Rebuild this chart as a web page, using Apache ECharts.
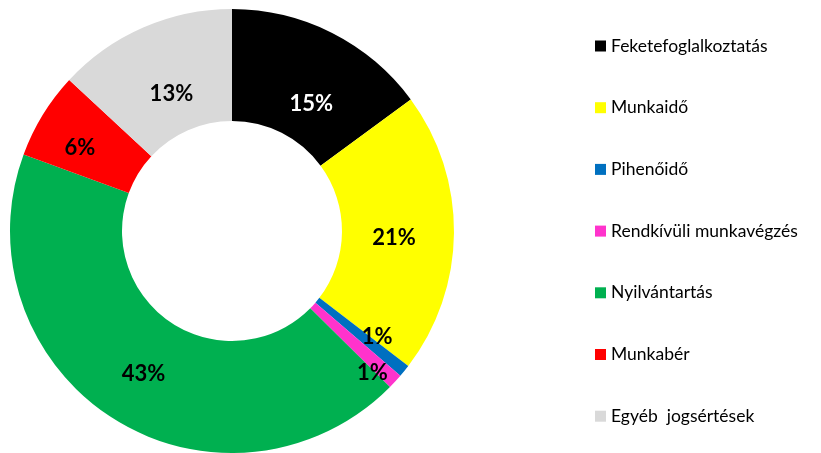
<!DOCTYPE html>
<html>
<head>
<meta charset="utf-8">
<script src="https://cdn.jsdelivr.net/npm/echarts@6/dist/echarts.min.js"></script>
<style>html,body{margin:0;padding:0;background:#fff}#c{width:821px;height:453px}</style>
</head>
<body>
<div id="c"></div>
<script>
const categories = ['Feketefoglalkoztatás','Munkaidő','Pihenőidő','Rendkívüli munkavégzés','Nyilvántartás','Munkabér','Egyéb  jogsértések'];
const values = [14.9, 20.5, 0.9, 1.1, 43.2, 6.3, 13.1];
const colors = ['#000000','#FFFF00','#0070C0','#FF33CC','#00B050','#FF0000','#D9D9D9'];
const labelColors = ['#FFFFFF','#000000','#000000','#000000','#000000','#000000','#000000'];
const labelOffsets = [[3,24],[-7,5],[14,-1],[16,27],[2,0],[-8,5],[7,18]];

const chart = echarts.init(document.getElementById('c'), null, {renderer:'canvas'});
chart.setOption({
  animation:false,
  legend:{
    orient:'vertical', left:595, top:36, padding:0,
    itemWidth:11, itemHeight:11, itemGap:41.7,
    icon:'rect',
    textStyle:{fontFamily:'Lato', fontSize:17.5, color:'#000', lineHeight:20},
    data: categories
  },
  series:[{
    type:'pie',
    center:[232,231],
    radius:[110,222],
    startAngle:90,
    clockwise:true,
    avoidLabelOverlap:false,
    emphasis:{disabled:true},
    label:{
      show:true, position:'inside',
      fontFamily:'Lato', fontWeight:'bold', fontSize:22,
      formatter:p=>Math.round(p.value)+'%'
    },
    labelLine:{show:false},
    data: categories.map((n,i)=>({name:n, value:values[i], itemStyle:{color:colors[i]}, label:{color:labelColors[i], offset:labelOffsets[i]}}))
  }]
});
</script>
</body>
</html>
